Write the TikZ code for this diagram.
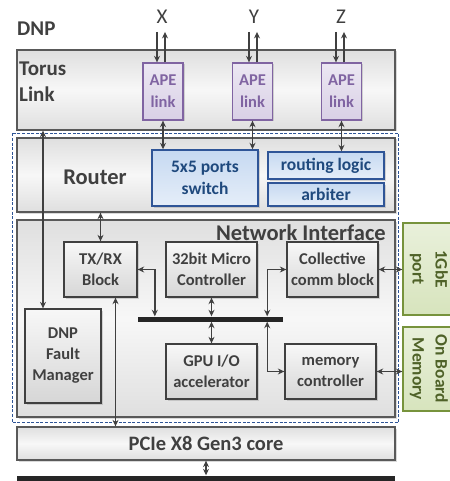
\documentclass[tikz,border=0pt]{standalone}
\usepackage{fontspec}
\setmainfont{Carlito}
\usetikzlibrary{arrows.meta,shadows}

\definecolor{txtgray}{HTML}{404040}
\definecolor{linegray}{HTML}{595959}
\definecolor{apefill}{HTML}{D9D0E6}
\definecolor{apeline}{HTML}{8064A2}
\definecolor{swfill}{HTML}{C6D9F1}
\definecolor{swline}{HTML}{2F5597}
\definecolor{swtxt}{HTML}{1F497D}
\definecolor{grnfill}{HTML}{D7E4BD}
\definecolor{grnline}{HTML}{77933C}
\definecolor{grntxt}{HTML}{4F6228}

\tikzset{
  shad/.style={drop shadow={opacity=0.3, shadow xshift=1.5pt, shadow yshift=-1.5pt}},
  panel/.style={draw=linegray, line width=1.3pt, top color=gray!25, bottom color=gray!25,
    middle color=gray!6, minimum width=378pt, inner sep=0pt, text=txtgray, shad},
  blk/.style={draw=txtgray, line width=1.3pt, top color=gray!6, bottom color=gray!32,
    text=txtgray, font=\fontsize{16.5}{21}\selectfont\bfseries, align=center,
    minimum width=91pt, minimum height=55pt, inner sep=0pt, shad},
  ape/.style={draw=apeline, line width=1.3pt, top color=apefill!50!white, bottom color=apefill,
    text=apeline, font=\fontsize{16.5}{22}\selectfont\bfseries, align=center,
    minimum width=40pt, minimum height=57pt, inner sep=0pt, shad},
  sw/.style={draw=swline, line width=1.4pt, top color=swfill, bottom color=swfill!45!white,
    text=swtxt, font=\fontsize{17.5}{22}\selectfont\bfseries, align=center, inner sep=0pt, shad},
  ext/.style={draw=grnline, line width=1.3pt, top color=grnfill!55!white, bottom color=grnfill,
    text=grntxt, font=\fontsize{17.5}{23}\selectfont\bfseries, align=center, inner sep=0pt},
  axis/.style={font=\fontsize{21}{21}\selectfont, text=txtgray, inner xsep=1pt, inner ysep=8pt},
  big/.style={font=\fontsize{21}{26}\selectfont\bfseries, text=txtgray, inner sep=0pt},
  lnk/.style={draw=txtgray, line width=1.4pt},
  bar/.style={fill=black!85, inner sep=0pt, minimum height=5pt}
}

\begin{document}
\begin{tikzpicture}[x=1pt, y=-1pt, >={Stealth[length=6.5pt,width=6pt]}]
\useasboundingbox (0,0) rectangle (449,481);

% main layers
\node[panel, minimum height=80pt] (torus) at (206,90) {};
\node[panel, minimum height=74pt] (router) at (206,175) {};
\node[panel, minimum height=197pt] (ni) at (206,318.5) {};
\node[panel, minimum height=33pt, font=\fontsize{20.5}{20}\selectfont\bfseries] (pcie) at (206,443.5) {PCIe X8 Gen3 core};
\node[bar, minimum width=378pt] (host) at (206,478) {};

\draw[swline, line width=1pt, dash pattern=on 3pt off 1.6pt]
  ([shift={(-4pt,4pt)}]router.north west) rectangle ([shift={(3pt,-5pt)}]ni.south east);

% layer titles
\node[big, anchor=west] (dnp) at (17,29) {DNP};
\node[big, anchor=west, align=left] (torlbl) at (19,82) {Torus\\Link};
\node[big, font=\fontsize{22.5}{22}\selectfont\bfseries] (rtlbl) at (95,177) {Router};
\node[big, anchor=east, font=\fontsize{22.5}{22}\selectfont\bfseries] (nilbl) at (386,233) {Network Interface};

% torus links
\node[ape] (apex) at (163,91.5) {APE\\link};
\node[ape] (apey) at (252.5,91.5) {APE\\link};
\node[ape] (apez) at (341.5,91.5) {APE\\link};
\node[axis] (lx) at (162,17) {X};
\node[axis] (ly) at (254,17) {Y};
\node[axis] (lz) at (341,17) {Z};

% router
\node[sw, minimum width=106pt, minimum height=56pt] (switch) at (205,178) {5x5 ports\\switch};
\node[sw, minimum width=116pt, minimum height=27pt] (routing) at (326,165.5) {routing logic};
\node[sw, minimum width=116pt, minimum height=23pt] (arbiter) at (326,194.5) {arbiter};

% network interface
\node[blk, minimum width=73pt] (txrx) at (100.5,269.5) {TX/RX\\Block};
\node[blk] (mcu) at (211.5,269.5) {32bit Micro\\Controller};
\node[blk] (coll) at (332.5,269.5) {Collective\\comm block};
\node[bar, minimum width=145pt] (bus) at (210.5,319) {};
\node[blk, minimum width=76pt, minimum height=94pt] (fault) at (63,356) {DNP\\Fault\\Manager};
\node[blk] (gpu) at (211.5,371.5) {GPU I/O\\accelerator};
\node[blk] (memctl) at (330.5,371.5) {memory\\controller};

% external ports
\node[ext, rotate=-90, minimum width=92pt, minimum height=52pt] (gbe) at (429,269) {1GbE\\port};
\node[ext, rotate=-90, minimum width=84pt, minimum height=52pt] (obm) at (429,369) {On Board\\Memory};

% connections
\draw[lnk,->] ([xshift=-5pt]lx.south) -- ([xshift=-5pt]lx.south |- apex.north);
\draw[lnk,->] ([xshift=3pt]lx.south |- apex.north) -- ([xshift=3pt]lx.south);
\draw[lnk,->] ([xshift=-5pt]ly.south) -- ([xshift=-5pt]ly.south |- apey.north);
\draw[lnk,->] ([xshift=3pt]ly.south |- apey.north) -- ([xshift=3pt]ly.south);
\draw[lnk,->] ([xshift=-5pt]lz.south) -- ([xshift=-5pt]lz.south |- apez.north);
\draw[lnk,->] ([xshift=3pt]lz.south |- apez.north) -- ([xshift=3pt]lz.south);

\draw[lnk,<->] (apex.south) -- (apex.south |- switch.north);
\draw[lnk,<->] (apey.south) -- (apey.south |- switch.north);
\draw[lnk,<->] (apez.south) -- (apez.south |- routing.north);

\draw[lnk,<->] ([xshift=-20pt]fault.north |- torus.south) -- ([xshift=-20pt]fault.north);
\draw[lnk,<->] (router.south -| txrx.north) -- (txrx.north);
\draw[lnk,<->] ([xshift=15pt]txrx.south) -- ([xshift=15pt]txrx.south |- pcie.north);

\draw[lnk,<->] (txrx.east) -| ([xshift=17pt]bus.north west);
\draw[lnk,<->] (mcu.south) -- (mcu.south |- bus.north);
\draw[lnk,<->] (gpu.north |- bus.south) -- (gpu.north);
\draw[lnk,<->] ([xshift=-16pt]bus.north east) |- (coll.west);
\draw[lnk,<->] ([xshift=-16pt]bus.south east) |- (memctl.west);

\draw[lnk,<->] (coll.east) -- (coll.east -| gbe.south);
\draw[lnk,<->] (memctl.east) -- (memctl.east -| obm.south);
\draw[lnk,<->] (pcie.south) -- (pcie.south |- host.north);
\end{tikzpicture}
\end{document}
